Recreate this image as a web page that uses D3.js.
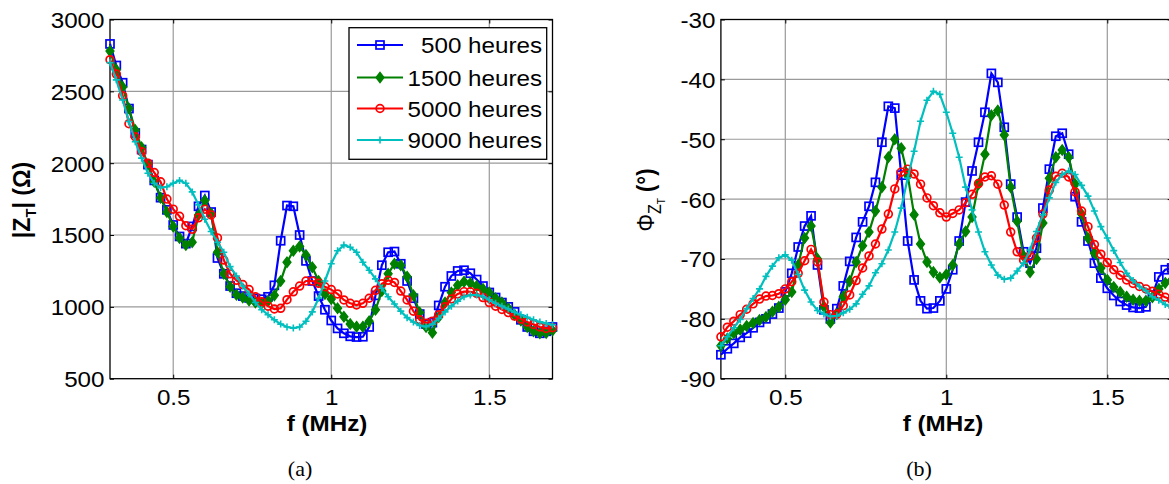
<!DOCTYPE html>
<html><head><meta charset="utf-8">
<script src="https://cdn.jsdelivr.net/npm/d3@7"></script>
<style>
html,body{margin:0;padding:0;background:#fff;}
svg{display:block;font-family:"Liberation Sans",Arial,sans-serif;}
</style></head>
<body>
<svg id="c" width="1169" height="484"></svg>
<script>
// ---------- DATA ----------
const freq = d3.range(71).map(i => +(0.30 + i*0.02).toFixed(2)); // MHz
const seriesNames = ["500 heures","1500 heures","5000 heures","9000 heures"];

// |Z_T| (Ohm)
const z500 = [2830,2680,2560,2380,2210,2095,1990,1880,1760,1675,1570,1490,1440,1560,1700,1775,1660,1340,1230,1145,1095,1075,1062,1058,1053,1070,1150,1460,1705,1700,1500,1320,1180,1075,980,905,850,816,795,790,792,860,1080,1290,1380,1385,1300,1180,1060,950,880,890,1010,1140,1215,1250,1255,1234,1190,1145,1100,1065,1030,1000,965,910,860,830,816,830,860];
const z1500 = [2780,2650,2530,2380,2230,2110,1990,1870,1760,1660,1560,1480,1430,1450,1640,1740,1650,1380,1230,1140,1085,1065,1045,1030,1025,1040,1080,1180,1310,1390,1420,1360,1275,1180,1090,1055,990,931,880,862,862,900,980,1110,1230,1300,1290,1210,1080,960,860,820,930,1030,1100,1150,1175,1165,1145,1125,1100,1060,1030,990,945,905,860,830,816,818,835];
const z5000 = [2720,2620,2470,2275,2184,2080,2000,1935,1870,1750,1680,1630,1565,1540,1620,1680,1640,1480,1326,1230,1185,1155,1120,1070,1035,1005,985,990,1050,1105,1145,1180,1180,1164,1140,1120,1090,1048,1025,1013,1025,1060,1115,1160,1185,1170,1110,1048,970,910,886,900,945,1000,1055,1090,1106,1105,1094,1065,1030,1005,982,960,936,915,895,878,860,850,855];
const z9000 = [2700,2580,2440,2290,2150,2035,1930,1860,1830,1836,1860,1880,1860,1800,1710,1610,1525,1450,1380,1280,1215,1145,1090,1030,980,945,910,880,860,852,860,900,965,1060,1180,1300,1390,1430,1415,1380,1310,1255,1195,1130,1070,1020,970,925,895,870,862,880,920,965,1005,1040,1071,1082,1083,1070,1050,1025,1005,985,962,945,928,910,895,885,875];

// Phase of Z_T (degrees)
const p500 = [-86.0,-85.0,-84.1,-83.1,-82.4,-81.5,-80.6,-80.0,-79.2,-78.2,-75.5,-72.4,-68.0,-64.5,-62.8,-71.0,-78.5,-80.0,-78.3,-74.5,-70.4,-66.4,-63.8,-61.2,-57.2,-50.5,-44.5,-44.8,-56.0,-67.0,-73.5,-77.0,-78.3,-78.2,-77.0,-75.0,-71.8,-67.0,-60.5,-55.3,-50.5,-45.5,-39.0,-40.5,-48.0,-57.5,-63.0,-68.8,-70.7,-68.2,-61.5,-55.0,-49.5,-49.0,-52.5,-59.6,-63.8,-67.0,-70.7,-73.2,-74.9,-76.1,-77.1,-77.7,-78.1,-78.2,-78.0,-76.0,-73.0,-71.8,-71.5];
const p1500 = [-84.5,-83.3,-82.4,-81.8,-81.2,-80.7,-80.2,-79.7,-78.8,-78.0,-76.8,-75.5,-71.0,-66.5,-64.5,-70.0,-78.0,-80.6,-79.2,-76.3,-73.7,-70.5,-67.8,-65.5,-62.0,-58.0,-53.0,-50.0,-51.5,-56.0,-62.6,-67.5,-70.5,-72.2,-73.1,-72.6,-71.0,-67.5,-65.4,-63.0,-57.5,-52.5,-46.0,-45.2,-49.3,-58.0,-63.7,-69.5,-72.2,-70.0,-64.0,-56.5,-53.0,-51.8,-53.0,-57.5,-62.5,-66.5,-69.0,-71.5,-73.5,-74.7,-75.5,-76.3,-76.8,-77.0,-77.0,-76.4,-75.0,-74.0,-73.5];
const p5000 = [-83.0,-81.4,-80.4,-79.3,-78.4,-77.5,-76.7,-76.2,-76.1,-75.8,-75.0,-73.8,-72.4,-70.3,-68.4,-70.5,-77.2,-79.3,-79.2,-77.8,-76.0,-73.6,-71.5,-69.5,-67.5,-65.0,-62.5,-58.3,-55.5,-55.0,-55.8,-57.5,-59.8,-61.1,-62.3,-63.0,-62.4,-61.8,-60.6,-59.2,-57.4,-56.3,-56.1,-57.5,-61.0,-65.5,-68.8,-70.2,-69.5,-66.5,-62.5,-58.5,-56.2,-55.7,-56.3,-58.8,-62.0,-64.6,-67.6,-69.2,-70.6,-71.8,-72.7,-73.5,-74.1,-74.6,-75.0,-75.4,-75.9,-76.4,-76.8];
const p9000 = [-84.5,-83.0,-81.5,-80.1,-78.3,-76.6,-75.0,-72.9,-71.2,-69.8,-69.3,-70.2,-72.6,-75.2,-77.2,-78.6,-79.2,-79.6,-79.5,-79.0,-78.4,-77.5,-75.9,-74.5,-72.3,-70.8,-68.5,-65.5,-61.5,-56.5,-52.0,-47.0,-43.5,-42.0,-42.5,-45.5,-49.0,-53.0,-58.0,-61.8,-65.5,-68.8,-71.0,-72.7,-73.4,-73.2,-72.0,-70.7,-68.5,-65.4,-62.6,-59.8,-57.2,-55.9,-55.3,-55.9,-57.7,-59.5,-62.0,-64.6,-66.5,-68.6,-70.6,-72.4,-73.6,-74.6,-75.3,-76.3,-76.9,-77.6,-78.2];

const xTicks = [0.5, 1, 1.5];
const xTickLabels = ["0.5", "1", "1.5"];
const zTicks = [500, 1000, 1500, 2000, 2500, 3000];
const zTickLabels = ["500", "1000", "1500", "2000", "2500", "3000"];
const pTicks = [-90, -80, -70, -60, -50, -40, -30];
const pTickLabels = ["-90", "-80", "-70", "-60", "-50", "-40", "-30"];

// ---------- STYLE ----------
const colors = ["#0000ff", "#008000", "#ff0000", "#00bfbf"];
const markers = ["square", "diamond", "circle", "plus"];
const SX = 1.1; // horizontal stretch of text in the reference

const svg = d3.select("#c");

function stretchedText(g, x, y, str, opts) {
  return g.append("text")
    .attr("transform", `translate(${x},${y}) scale(${SX},1)`)
    .attr("text-anchor", opts.anchor || "middle")
    .attr("font-size", opts.size || 22)
    .attr("font-weight", opts.weight || "normal")
    .attr("font-family", opts.family || null)
    .attr("fill", "#000")
    .text(str);
}

function drawMarker(sel, type, color) {
  if (type === "square") {
    sel.append("rect").attr("x", -4).attr("y", -4).attr("width", 8).attr("height", 8)
      .attr("fill", "none").attr("stroke", color).attr("stroke-width", 1.7);
  } else if (type === "diamond") {
    sel.append("path").attr("d", "M0,-5.2L4,0L0,5.2L-4,0Z")
      .attr("fill", color).attr("stroke", color).attr("stroke-width", 1.3);
  } else if (type === "circle") {
    sel.append("circle").attr("r", 3.9)
      .attr("fill", "none").attr("stroke", color).attr("stroke-width", 1.7);
  } else {
    sel.append("path").attr("d", "M-3.5,0H3.5M0,-3.5V3.5")
      .attr("fill", "none").attr("stroke", color).attr("stroke-width", 1.6);
  }
}

function panel(box, yDomain, yTickVals, yTickLabels, seriesList) {
  const x = d3.scaleLinear().domain([0.3, 1.7]).range([box.x0, box.x1]);
  const y = d3.scaleLinear().domain(yDomain).range([box.y1, box.y0]);
  const g = svg.append("g");

  // grid
  g.append("g").selectAll("line").data(xTicks).join("line")
    .attr("x1", d => x(d)).attr("x2", d => x(d)).attr("y1", box.y0).attr("y2", box.y1)
    .attr("stroke", "#9a9a9a").attr("stroke-width", 1.2);
  g.append("g").selectAll("line").data(yTickVals.slice(1, -1)).join("line")
    .attr("x1", box.x0).attr("x2", box.x1).attr("y1", d => y(d)).attr("y2", d => y(d))
    .attr("stroke", "#9a9a9a").attr("stroke-width", 1.2);

  // axes (inward ticks)
  const ax = g.append("g").attr("transform", `translate(0,${box.y1})`)
    .call(d3.axisBottom(x).tickValues(xTicks).tickSize(-4).tickPadding(11)
      .tickFormat((d, i) => xTickLabels[i]));
  const axTop = g.append("g").attr("transform", `translate(0,${box.y0})`)
    .call(d3.axisTop(x).tickValues(xTicks).tickSize(-4).tickFormat(""));
  const ay = g.append("g").attr("transform", `translate(${box.x0},0)`)
    .call(d3.axisLeft(y).tickValues(yTickVals).tickSize(-4).tickPadding(5)
      .tickFormat((d, i) => yTickLabels[i]));
  const ayR = g.append("g").attr("transform", `translate(${box.x1},0)`)
    .call(d3.axisRight(y).tickValues(yTickVals).tickSize(-4).tickFormat(""));
  [ax, axTop, ay, ayR].forEach(a => {
    a.select(".domain").remove();
    a.selectAll(".tick line").attr("stroke", "#000").attr("stroke-width", 1);
  });
  [ax, ay].forEach(a => {
    a.selectAll(".tick text")
      .attr("font-size", 22).attr("fill", "#000")
      .attr("font-family", "'Liberation Sans', Arial, sans-serif")
      .attr("transform", `scale(${SX},1)`);
  });
  ay.selectAll(".tick text").attr("dy", "0.36em");

  // box
  g.append("rect").attr("x", box.x0).attr("y", box.y0)
    .attr("width", box.x1 - box.x0).attr("height", box.y1 - box.y0)
    .attr("fill", "none").attr("stroke", "#000").attr("stroke-width", 1.3);

  // series
  const clipId = "clip" + Math.round(box.x0);
  svg.append("defs").append("clipPath").attr("id", clipId).append("rect")
    .attr("x", box.x0 - 6).attr("y", box.y0 - 6).attr("width", box.x1 - box.x0 + 12).attr("height", box.y1 - box.y0 + 12);
  const sg = g.append("g").attr("clip-path", `url(#${clipId})`);
  const line = d3.line().x((d, i) => x(freq[i])).y(d => y(d));
  seriesList.forEach((vals, k) => {
    const s = sg.append("g");
    s.append("path").datum(vals).attr("d", line)
      .attr("fill", "none").attr("stroke", colors[k]).attr("stroke-width", 2.2);
    s.selectAll("g.m").data(vals).join("g").attr("class", "m")
      .attr("transform", (d, i) => `translate(${x(freq[i])},${y(d)})`)
      .each(function () { drawMarker(d3.select(this), markers[k], colors[k]); });
  });
  return {x, y, g};
}

// Panel (a)
panel({x0: 110, x1: 552.5, y0: 19.5, y1: 378.7}, [500, 3000], zTicks, zTickLabels, [z500, z1500, z5000, z9000]);
// Panel (b)
panel({x0: 720.9, x1: 1171.7, y0: 19.5, y1: 378.7}, [-90, -30], pTicks, pTickLabels, [p500, p1500, p5000, p9000]);

// legend (panel a)
const lg = svg.append("g");
lg.append("rect").attr("x", 349).attr("y", 27.7).attr("width", 197.7).attr("height", 131.6)
  .attr("fill", "#fff").attr("stroke", "#000").attr("stroke-width", 1.3);
const rowsY = [45, 77.5, 108.5, 140];
seriesNames.forEach((name, k) => {
  const yy = rowsY[k];
  lg.append("line").attr("x1", 357).attr("x2", 403).attr("y1", yy).attr("y2", yy)
    .attr("stroke", colors[k]).attr("stroke-width", 2.2);
  const mg = lg.append("g").attr("transform", `translate(380,${yy})`);
  drawMarker(mg, markers[k], colors[k]);
  stretchedText(lg, 542, yy + 8, name, {anchor: "end", size: 22});
});

// axis titles
stretchedText(svg, 327, 431, "f (MHz)", {size: 22, weight: "bold"});
stretchedText(svg, 943, 431, "f (MHz)", {size: 22, weight: "bold"});

// y label (a): |Z_T| (Ω)
const yl = svg.append("text").attr("transform", "translate(30,200) rotate(-90) scale(1.05,1.1)")
  .attr("text-anchor", "middle").attr("font-size", 22).attr("font-weight", "bold");
yl.append("tspan").text("|Z");
yl.append("tspan").attr("font-size", 14).attr("dy", 5).text("T");
yl.append("tspan").attr("dy", -5).text("| (Ω)");

// y label (b): Φ_{Z_T} (°)
const yl2 = svg.append("text").attr("transform", "translate(654,200) rotate(-90) scale(1,1.1)")
  .attr("text-anchor", "middle").attr("font-size", 22).attr("font-weight", "normal");
yl2.append("tspan").text("Φ");
yl2.append("tspan").attr("font-size", 16).attr("dy", 6).text("Z");
yl2.append("tspan").attr("font-size", 10).attr("dy", 4).text("T");
yl2.append("tspan").attr("dy", -10).attr("font-weight", "bold").text(" (°)");

// captions
stretchedText(svg, 300, 476, "(a)", {size: 20, family: "'Liberation Serif', 'Times New Roman', serif"});
stretchedText(svg, 919, 476, "(b)", {size: 20, family: "'Liberation Serif', 'Times New Roman', serif"});
</script>
</body></html>
